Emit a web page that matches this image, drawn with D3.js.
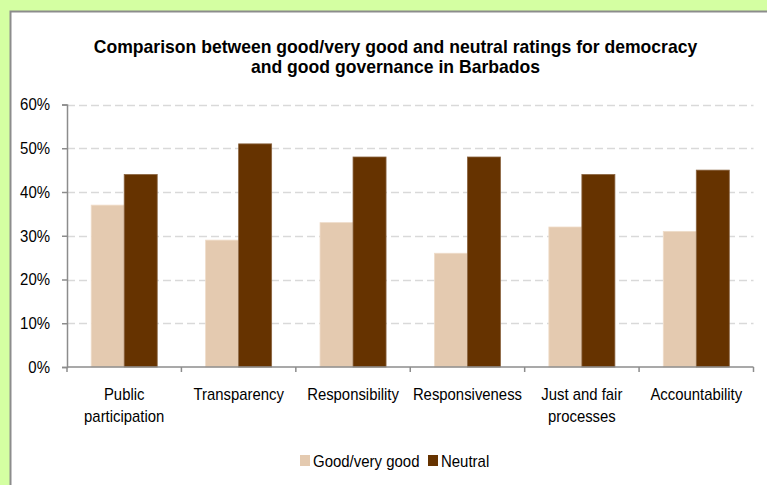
<!DOCTYPE html>
<meta charset="utf-8">
<body style="margin:0">
<svg id="chart"></svg>
</body>
<script src="https://cdn.jsdelivr.net/npm/d3@7"></script>
<script>
// data
var categories = ["Public participation", "Transparency", "Responsibility", "Responsiveness", "Just and fair processes", "Accountability"];
var categoryLines = [["Public", "participation"], ["Transparency"], ["Responsibility"], ["Responsiveness"], ["Just and fair", "processes"], ["Accountability"]];
var seriesNames = ["Good/very good", "Neutral"];
var goodValues = [37, 29, 33, 26, 32, 31];
var neutralValues = [44, 51, 48, 48, 44, 45];
var yTicks = [0, 10, 20, 30, 40, 50, 60];

var width = 767, height = 485;
var colors = ["#e4cab0", "#663300"];
var strokes = ["#efdcc9", "#8a6440"];
var font = "'Liberation Sans Narrow', 'Arial Narrow', 'Liberation Sans', Arial, sans-serif";

// squeeze text horizontally, the reference uses a narrow face
function condense(sel, k) {
	sel.each(function() {
		var len = this.getComputedTextLength();
		d3.select(this).attr("textLength", len * k).attr("lengthAdjust", "spacingAndGlyphs");
	});
}

var svg = d3.select("#chart")
	.attr("width", width)
	.attr("height", height)
	.style("display", "block");

svg.append("rect")
	.attr("width", width).attr("height", height)
	.attr("fill", "#d4ffa2");

// white chart panel, runs off right and bottom edges
svg.append("rect")
	.attr("x", 10.5).attr("y", 11.5)
	.attr("width", 800).attr("height", 500)
	.attr("fill", "#fff")
	.attr("stroke", "#8c8c8c")
	.attr("stroke-width", 2);

var plotLeft = 67, plotRight = 753.5, plotTop = 104.5, plotBottom = 367;

var y = d3.scaleLinear().domain([0, 60]).range([plotBottom, plotTop]);
var x = d3.scaleBand().domain(categories).range([plotLeft, plotRight]).padding(0);
var xs = d3.scaleBand().domain(seriesNames).range([0, x.bandwidth()]).paddingInner(0).paddingOuter(0.733);

// title
var title = svg.append("text")
	.attr("text-anchor", "middle")
	.attr("font-family", font)
	.attr("font-weight", "bold")
	.attr("font-size", 19)
	.attr("fill", "#000");
title.append("tspan").attr("x", 395.5).attr("y", 53)
	.text("Comparison between good/very good and neutral ratings for democracy");
title.append("tspan").attr("x", 395.5).attr("y", 73)
	.text("and good governance in Barbados");
condense(title.selectAll("tspan"), 0.925);

// dashed gridlines
svg.append("g")
	.selectAll("line")
	.data(yTicks.filter(function(d){ return d > 0; }))
	.enter().append("line")
	.attr("x1", plotLeft).attr("x2", plotRight)
	.attr("y1", function(d){ return Math.round(y(d)) + 0.5; })
	.attr("y2", function(d){ return Math.round(y(d)) + 0.5; })
	.attr("stroke", "#d9d9d9")
	.attr("stroke-width", 1.5)
	.attr("stroke-dasharray", "8,4");

// bars
var rows = categories.map(function(c, i){
	return [{cat: c, s: seriesNames[0], v: goodValues[i], k: 0},
	        {cat: c, s: seriesNames[1], v: neutralValues[i], k: 1}];
});

svg.append("g")
	.selectAll("g")
	.data(rows)
	.enter().append("g")
	.attr("transform", function(d){ return "translate(" + x(d[0].cat) + ",0)"; })
	.selectAll("rect")
	.data(function(d){ return d; })
	.enter().append("rect")
	.attr("x", function(d){ return xs(d.s); })
	.attr("width", xs.bandwidth())
	.attr("y", function(d){ return y(d.v); })
	.attr("height", function(d){ return y(0) - y(d.v); })
	.attr("fill", function(d){ return colors[d.k]; })
	.attr("stroke", function(d){ return strokes[d.k]; })
	.attr("stroke-width", 0.8);

// y axis
var yAxis = d3.axisLeft(y)
	.tickValues(yTicks)
	.tickSize(5)
	.tickPadding(12)
	.tickFormat(function(d){ return d + "%"; });

var gy = svg.append("g")
	.attr("transform", "translate(" + plotLeft + ",0)")
	.call(yAxis);
gy.select(".domain").attr("stroke", "#8c8c8c").attr("stroke-width", 1.5);
gy.selectAll(".tick line").attr("stroke", "#8c8c8c").attr("stroke-width", 1.5);
gy.selectAll(".tick text")
	.attr("font-family", font)
	.attr("font-size", 17)
	.attr("fill", "#000");
condense(gy.selectAll(".tick text"), 0.88);

// x axis: ticks at the category boundaries
var gx = svg.append("g").attr("transform", "translate(0," + plotBottom + ")");
gx.append("line")
	.attr("x1", plotLeft).attr("x2", plotRight)
	.attr("stroke", "#8c8c8c").attr("stroke-width", 1.5);
var bounds = categories.map(function(c){ return x(c); }).concat([plotRight]);
gx.selectAll(".bt")
	.data(bounds)
	.enter().append("line")
	.attr("class", "bt")
	.attr("x1", function(d){ return d; }).attr("x2", function(d){ return d; })
	.attr("y1", 0).attr("y2", 5)
	.attr("stroke", "#8c8c8c").attr("stroke-width", 1.5);

var labels = gx.selectAll(".cl")
	.data(categories)
	.enter().append("text")
	.attr("class", "cl")
	.attr("text-anchor", "middle")
	.attr("font-family", font)
	.attr("font-size", 17)
	.attr("fill", "#000");
labels.selectAll("tspan")
	.data(function(d, i){ return categoryLines[i].map(function(t){ return {t: t, c: d}; }); })
	.enter().append("tspan")
	.attr("x", function(d){ return x(d.c) + x.bandwidth() / 2; })
	.attr("y", function(d, j){ return 33 + j * 22; })
	.text(function(d){ return d.t; });
condense(labels.selectAll("tspan"), 0.875);

// legend
var legend = svg.append("g").attr("transform", "translate(300,467)");
var lx = [0, 128];
seriesNames.forEach(function(s, i){
	legend.append("rect")
		.attr("x", lx[i]).attr("y", -12)
		.attr("width", 10).attr("height", 11)
		.attr("fill", colors[i]);
	var t = legend.append("text")
		.attr("x", lx[i] + 13).attr("y", 0)
		.attr("font-family", font)
		.attr("font-size", 17)
		.attr("fill", "#000")
		.text(s);
	condense(t, 0.88);
});
</script>
